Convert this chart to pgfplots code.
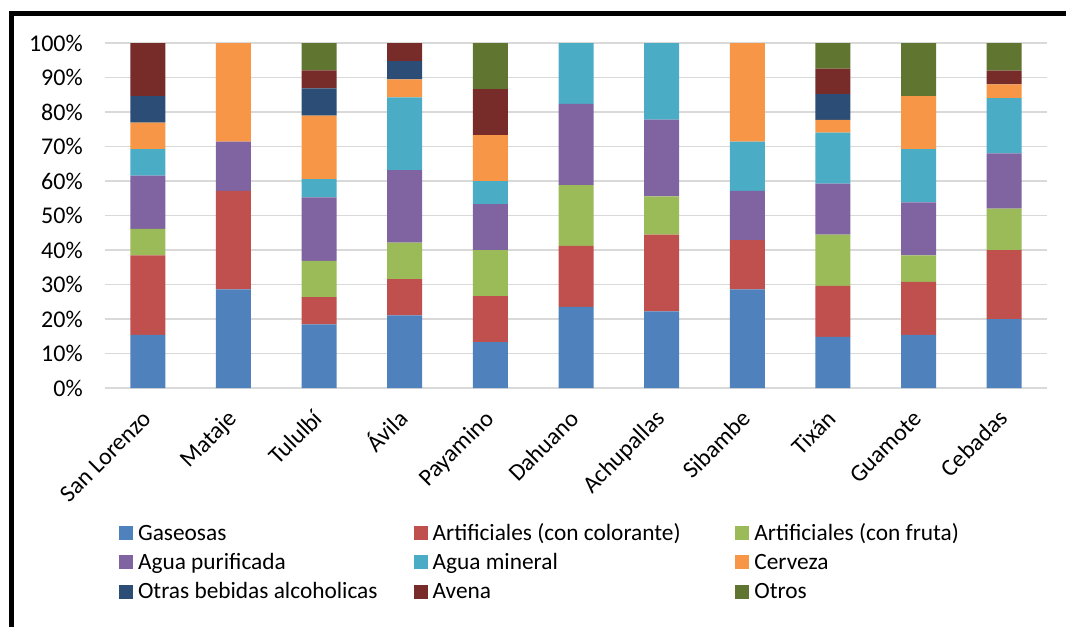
\documentclass[border=0pt]{standalone}
\usepackage{fontspec}
\setmainfont{Carlito}
\usepackage{pgfplots}
\usepackage{pgfplotstable}
\pgfplotsset{compat=1.18}

\definecolor{cGas}{HTML}{4F81BD}
\definecolor{cCol}{HTML}{C0504D}
\definecolor{cFru}{HTML}{9BBB59}
\definecolor{cPur}{HTML}{8064A2}
\definecolor{cMin}{HTML}{4BACC6}
\definecolor{cCer}{HTML}{F79646}
\definecolor{cAlc}{HTML}{2C4D75}
\definecolor{cAve}{HTML}{772C2A}
\definecolor{cOtr}{HTML}{5F7530}

% percentage of each beverage per locality
\pgfplotstableread{
x  G     AC    AF    AP    AM    C     OB    Av    Ot
0  15.38 23.08 7.69  15.38 7.69  7.69  7.69  15.40 0
1  28.57 28.57 0     14.29 0     28.57 0     0     0
2  18.42 7.89  10.53 18.42 5.26  18.42 7.89  5.26  7.91
3  21.05 10.53 10.53 21.05 21.05 5.26  5.26  5.27  0
4  13.33 13.33 13.33 13.33 6.67  13.33 0     13.33 13.35
5  23.53 17.65 17.65 23.53 17.64 0     0     0     0
6  22.22 22.22 11.11 22.22 22.23 0     0     0     0
7  28.57 14.29 0     14.29 14.28 28.57 0     0     0
8  14.81 14.81 14.81 14.81 14.81 3.70  7.41  7.41  7.44
9  15.38 15.38 7.69  15.38 15.38 15.38 0     0     15.41
10 20    20    12    16    16    4     0     4     8
}\data

\begin{document}
\begin{tikzpicture}[font=\fontsize{17.5pt}{20pt}\selectfont]
\path[use as bounding box] (-78.75pt,-178.5pt) rectangle (720.75pt,291pt);
\draw[line width=3.4pt, line join=miter] (-70.1pt,-180pt) -- (-70.1pt,281pt) -- (722pt,281pt);
\begin{axis}[
    at={(0,0)}, anchor=south west,
    scale only axis,
    width=706.5pt, height=258.75pt,
    ybar stacked,
    bar width=26.25pt,
    xmin=-0.5, xmax=10.5,
    ymin=0, ymax=100,
    axis line style={draw=none},
    ymajorgrids,
    grid style={line width=1.1pt, color=black!15},
    major tick length=0pt,
    xtick={0,...,10},
    xticklabels={San Lorenzo, Mataje, Tululbí, Ávila, Payamino, Dahuano, Achupallas, Sibambe, Tixán, Guamote, Cebadas},
    ytick={0,10,...,100},
    yticklabel={\pgfmathprintnumber{\tick}\%},
    /pgf/number format/assume math mode=true,
    tick label style={font=\fontsize{18pt}{21pt}\selectfont},
    yticklabel style={anchor=east, inner sep=0pt},
    yticklabel shift=16.5pt,
    xticklabel style={xshift=3.75pt, rotate=45, anchor=base east, inner sep=0pt},
    xticklabel shift=24pt,
    legend columns=3,
    legend cell align=left,
    legend image code/.code={\fill[#1] (0pt,0pt) rectangle (10.5pt,10.5pt);},
    legend style={
        draw=none, fill=none,
        at={(0.0149,-0.3942)}, anchor=north west,
        inner sep=0pt, outer sep=0pt,
        row sep=6.1pt,
        cells={anchor=base west},
        nodes={inner sep=0pt, text height=12pt, text depth=4pt},
        /tikz/every odd column/.append style={column sep=3.75pt},
        /tikz/column 2/.append style={column sep=27pt},
        /tikz/column 4/.append style={column sep=41pt},
        font=\fontsize{17.5pt}{20pt}\selectfont,
    },
]
\addplot[fill=cGas, draw=none] table[x=x, y=G] {\data};
\addlegendentry{Gaseosas}
\addplot[fill=cCol, draw=none] table[x=x, y=AC] {\data};
\addlegendentry{Artificiales (con colorante)}
\addplot[fill=cFru, draw=none] table[x=x, y=AF] {\data};
\addlegendentry{Artificiales (con fruta)}
\addplot[fill=cPur, draw=none] table[x=x, y=AP] {\data};
\addlegendentry{Agua purificada}
\addplot[fill=cMin, draw=none] table[x=x, y=AM] {\data};
\addlegendentry{Agua mineral}
\addplot[fill=cCer, draw=none] table[x=x, y=C] {\data};
\addlegendentry{Cerveza}
\addplot[fill=cAlc, draw=none] table[x=x, y=OB] {\data};
\addlegendentry{Otras bebidas alcoholicas}
\addplot[fill=cAve, draw=none] table[x=x, y=Av] {\data};
\addlegendentry{Avena}
\addplot[fill=cOtr, draw=none] table[x=x, y=Ot] {\data};
\addlegendentry{Otros}
\end{axis}
\end{tikzpicture}
\end{document}
